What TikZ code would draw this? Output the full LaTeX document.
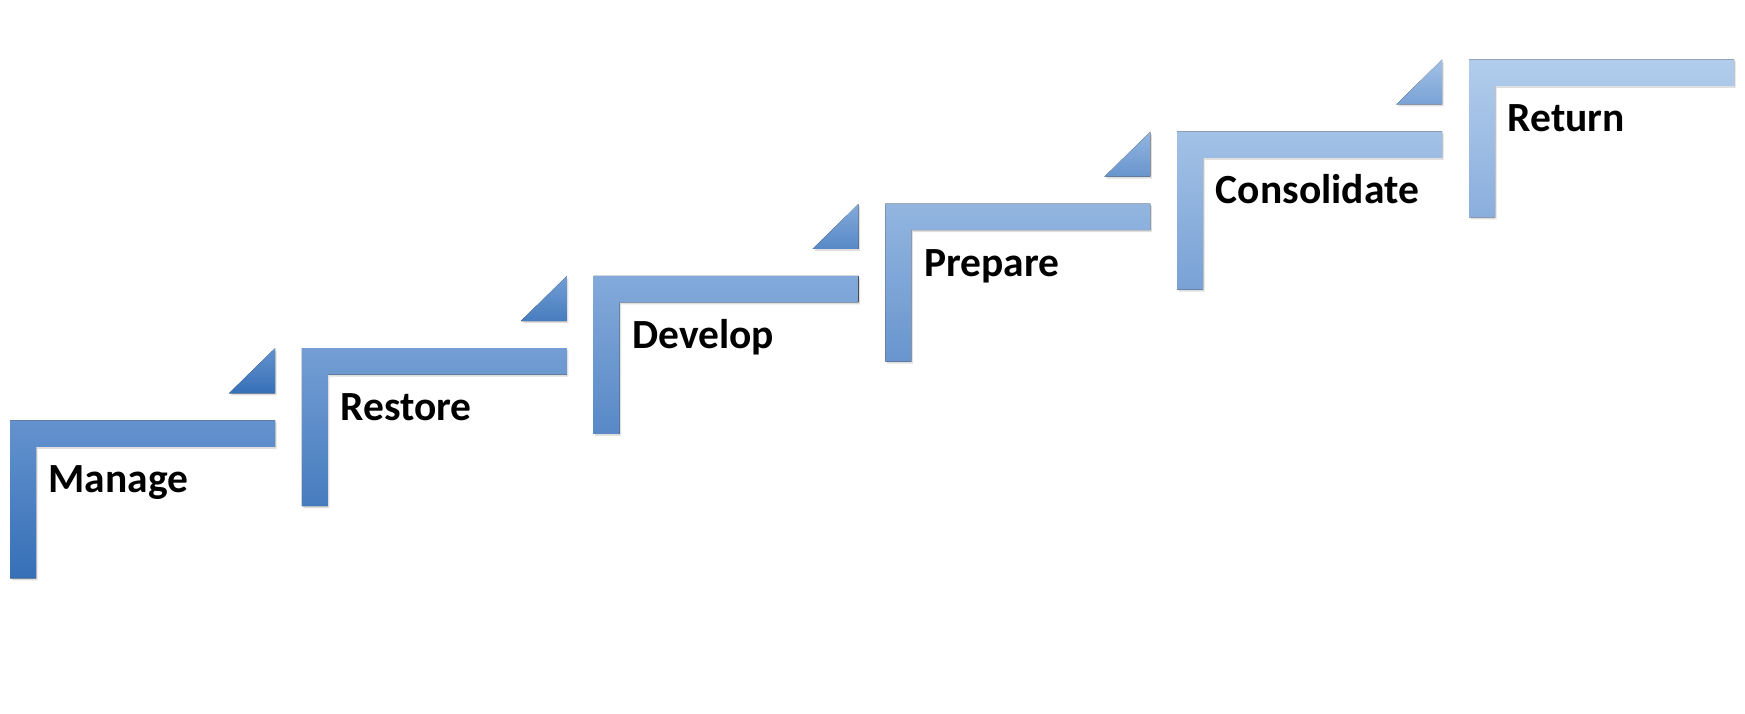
\documentclass[tikz,border=0pt]{standalone}
\usepackage{fontspec}
\setmainfont{Carlito}
\usetikzlibrary{shadows}
\definecolor{atop}{RGB}{100,146,206}
\definecolor{abot}{RGB}{54,112,183}
\definecolor{btop}{RGB}{178,205,236}
\definecolor{bbot}{RGB}{138,174,221}
\tikzset{
  stair/.style={top color=ctop, bottom color=cbot, draw=none,
    drop shadow={opacity=0.25, shadow xshift=1.5pt, shadow yshift=-2pt}},
  steplabel/.style={font=\fontsize{41.5}{50}\selectfont\bfseries, text=black,
    anchor=base west, inner sep=0pt}
}
\begin{document}
\begin{tikzpicture}[x=1pt,y=-1pt]
\useasboundingbox[fill=white] (0,0) rectangle (1745,714);
\foreach \lab [count=\i from 0] in {Manage,Restore,Develop,Prepare,Consolidate,Return}{
  \pgfmathsetmacro{\L}{10+291.8*\i}
  \pgfmathsetmacro{\T}{420.3-72.2*\i}
  \pgfmathtruncatemacro{\p}{20*\i}
  \colorlet{ctop}{btop!\p!atop}
  \colorlet{cbot}{bbot!\p!abot}
  \fill[stair] (\L,\T) -- (\L+265,\T) -- (\L+265,\T+26.5) -- (\L+26,\T+26.5)
     -- (\L+26,\T+158) -- (\L,\T+158) -- cycle;
  \ifnum\i<5
    \fill[stair] (\L+219,\T-27) -- (\L+265,\T-27) -- (\L+265,\T-72) -- cycle;
  \fi
  \node[steplabel] (s\i) at (\L+38.5,\T+72.5) {\lab};
}
\end{tikzpicture}
\end{document}
